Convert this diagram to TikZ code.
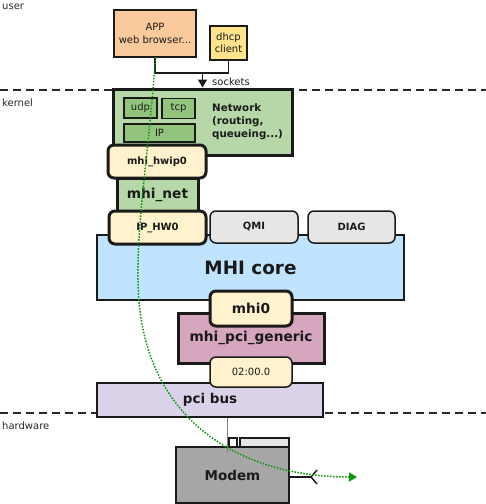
\documentclass[tikz,border=0pt]{standalone}
\usepackage{fontspec}
\setmainfont{DejaVu Sans}
\usetikzlibrary{arrows.meta}
\definecolor{linec}{RGB}{26,26,26}
\definecolor{appc}{RGB}{250,201,156}
\definecolor{dhcpc}{RGB}{255,228,140}
\definecolor{netg}{RGB}{182,215,168}
\definecolor{netd}{RGB}{147,196,125}
\definecolor{cream}{RGB}{255,242,204}
\definecolor{lgray}{RGB}{230,230,230}
\definecolor{corec}{RGB}{192,228,255}
\definecolor{pcigc}{RGB}{213,166,189}
\definecolor{busc}{RGB}{217,210,233}
\definecolor{modemc}{RGB}{166,166,166}
\definecolor{greenc}{RGB}{10,150,10}
\definecolor{dashc}{RGB}{40,40,40}
\tikzset{
  box/.style={draw=linec, line width=1.5pt, inner sep=0pt, align=center, text=linec},
  thickbox/.style={box, line width=3pt},
  rbox/.style={box, rounded corners=6pt},
  trbox/.style={thickbox, rounded corners=6pt},
  fsmall/.style={font=\fontsize{10}{12.5}\selectfont},
  fsmallb/.style={font=\bfseries\fontsize{10}{12.5}\selectfont},
  fmid/.style={font=\bfseries\fontsize{13.7}{16}\selectfont},
  flarge/.style={font=\bfseries\fontsize{18.4}{22}\selectfont},
  sep/.style={dashc, line width=1.5pt, dash pattern=on 8pt off 5pt},
  lbl/.style={anchor=west, inner sep=0pt, text=dashc, font=\fontsize{10}{12}\selectfont}
}
\begin{document}
\begin{tikzpicture}[x=1pt,y=-1pt]
\useasboundingbox (0,0) rectangle (486,504);
% layer separators
\coordinate (s1l) at (0,90);
\coordinate (s1r) at (486,90);
\coordinate (s2l) at (0,413);
\coordinate (s2r) at (486,413);
\draw[sep] (s1l) -- (s1r);
\draw[sep] (s2l) -- (s2r);
\node[lbl] (user) at (2,6.5) {user};
\node[lbl] (kernel) at (2,103) {kernel};
\node[lbl] (hw) at (2,426) {hardware};
% user space
\node[box, fill=appc, fsmall, minimum width=82pt, minimum height=47pt] (app) at (155,33.5) {APP\\web browser...};
\node[box, fill=dhcpc, fsmall, minimum width=37pt, minimum height=34pt] (dhcp) at (228.5,43) {dhcp\\client};
% network stack
\node[thickbox, fill=netg, minimum width=179pt, minimum height=66pt] (net) at (202.5,122) {};
\coordinate (j) at (202.5,73);
\draw[linec, line width=1.5pt] (app.south) |- (j) -| (dhcp.south);
\draw[linec, line width=1.5pt, -{Triangle[length=8pt,width=9pt]}] (j) -- (net.north);
\node[anchor=west, inner sep=0pt, text=linec, fsmall] (sock) at (212,82) {sockets};
\node[box, fill=netd, fsmall, minimum width=33pt, minimum height=20pt] (udp) at (140.5,108) {udp};
\node[box, fill=netd, fsmall, minimum width=33pt, minimum height=20pt] (tcp) at (178.5,108.5) {tcp};
\node[box, fill=netd, fsmall, minimum width=71pt, minimum height=18pt] (ip) at (159.5,133) {IP};
\node[anchor=west, inner sep=0pt, align=left, text=linec, font=\bfseries\fontsize{10.3}{13.3}\selectfont] (nettext) at (212,121.5) {Network\\(routing,\\queueing...)};
% mhi net
\node[thickbox, fill=netg, fmid, minimum width=81pt, minimum height=33pt] (mhinet) at (157.5,194.5) {mhi\_net};
\node[trbox, fill=cream, fsmallb, minimum width=98pt, minimum height=33pt] (hwip) at (157,161.5) {mhi\_hwip0};
% MHI core
\node[box, fill=corec, flarge, minimum width=307pt, minimum height=65pt] (core) at (250.5,267.5) {MHI core};
\node[trbox, fill=cream, fsmallb, minimum width=97pt, minimum height=33pt] (iphw) at (157.5,227.5) {IP\_HW0};
\node[rbox, fill=lgray, fsmallb, minimum width=88pt, minimum height=32pt] (qmi) at (254,227) {QMI};
\node[rbox, fill=lgray, fsmallb, minimum width=87pt, minimum height=32pt] (diag) at (351.5,227) {DIAG};
% pci
\node[thickbox, fill=pcigc, fmid, minimum width=146pt, minimum height=50pt] (pcig) at (251,338) {mhi\_pci\_generic};
\node[trbox, fill=cream, fmid, minimum width=82pt, minimum height=35pt] (mhi0) at (251,308.5) {mhi0};
\node[box, fill=busc, font=\bfseries\fontsize{13.5}{16}\selectfont, minimum width=226pt, minimum height=34pt] (bus) at (210,400) {pci bus};
\node[rbox, fill=cream, fsmall, minimum width=82pt, minimum height=30pt] (addr) at (251,372) {02:00.0};
% modem
\node[box, fill=white, minimum width=8pt, minimum height=9pt] (tab1) at (233,442.5) {};
\node[box, fill=lgray, minimum width=49pt, minimum height=9pt] (tab2) at (264.5,442.5) {};
\node[box, fill=modemc, font=\bfseries\fontsize{13.5}{16}\selectfont, minimum width=113pt, minimum height=56pt] (modem) at (232.5,475) {Modem};
\coordinate (g) at (227,453);
\draw[gray, line width=1pt] (bus.south -| g) -- (g);
\coordinate (ant) at (311,477);
\coordinate (a1) at (317,470);
\coordinate (a2) at (317,484);
\draw[linec, line width=1.5pt] (modem.east |- ant) -- (ant);
\draw[linec, line width=1.5pt] (a1) -- (ant) -- (a2);
% data path
\coordinate (p0) at (155.5,57);
\coordinate (pm) at (138,280);
\coordinate (pe) at (357,477);
\draw[greenc, line width=1.5pt, dash pattern=on 1.5pt off 1.5pt, -{Triangle[length=8pt,width=9pt]}]
  (p0) .. controls (148,160) and (137,220) .. (pm) .. controls (139,420) and (240,477) .. (pe);
\end{tikzpicture}
\end{document}
